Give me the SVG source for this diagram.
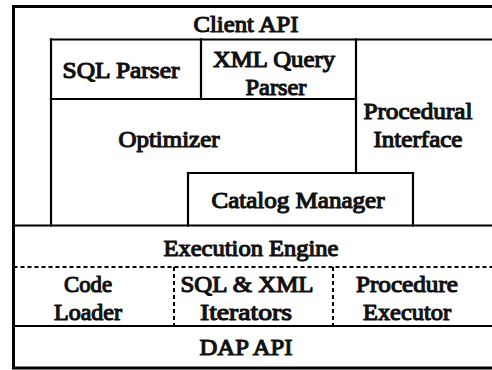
<svg xmlns="http://www.w3.org/2000/svg" width="492" height="370" viewBox="0 0 492 370">
  <style>
    .bg { fill: #ffffff; }
    .edge { fill: none; stroke: #000000; stroke-width: 2.2; stroke-linecap: square; }
    .outer { fill: none; stroke: #000000; stroke-width: 3; }
    .dash { fill: none; stroke: #000000; stroke-width: 2; stroke-dasharray: 4 3; }
    /* heavy serif label: regular face thickened with a stroke of the same colour */
    .label { font-family: "Liberation Serif", "DejaVu Serif", serif; font-weight: normal; font-size: 24px;
             fill: #111111; stroke: #111111; stroke-width: 1.2; stroke-linejoin: round; text-anchor: middle; }
  </style>

  <rect class="bg" x="0" y="0" width="492" height="370"/>

  <!-- partition lines of the layered architecture -->
  <g id="frame">
    <rect class="outer" x="13.5" y="6.5" width="490" height="361.5"/>
    <!-- client API band -->
    <path class="edge" d="M51 39.5 H495"/>
    <path class="edge" d="M51 39.5 V225.5"/>
    <!-- parsers row -->
    <path class="edge" d="M201 39.5 V99"/>
    <path class="edge" d="M51 99 H356"/>
    <path class="edge" d="M356 39.5 V173"/>
    <!-- catalog manager -->
    <path class="edge" d="M188 173 H413"/>
    <path class="edge" d="M188 173 V225.5"/>
    <path class="edge" d="M413 173 V225.5"/>
    <!-- execution engine -->
    <path class="edge" d="M13.5 225.5 H495"/>
    <path class="dash" d="M13.5 267 H495"/>
    <path class="dash" d="M174 267 V326"/>
    <path class="dash" d="M333 267 V326"/>
    <!-- DAP API -->
    <path class="edge" d="M13.5 326 H495"/>
  </g>

  <g id="client-api">
    <text class="label" x="246" y="32" textLength="105" lengthAdjust="spacingAndGlyphs">Client API</text>
  </g>
  <g id="sql-parser">
    <text class="label" x="121" y="78" textLength="117" lengthAdjust="spacingAndGlyphs">SQL Parser</text>
  </g>
  <g id="xml-query-parser">
    <text class="label" x="274" y="67" textLength="122" lengthAdjust="spacingAndGlyphs">XML Query</text>
    <text class="label" x="276" y="95" textLength="61" lengthAdjust="spacingAndGlyphs">Parser</text>
  </g>
  <g id="optimizer">
    <text class="label" x="169" y="147" textLength="101" lengthAdjust="spacingAndGlyphs">Optimizer</text>
  </g>
  <g id="procedural-interface">
    <text class="label" x="418" y="119" textLength="109" lengthAdjust="spacingAndGlyphs">Procedural</text>
    <text class="label" x="418" y="147" textLength="89" lengthAdjust="spacingAndGlyphs">Interface</text>
  </g>
  <g id="catalog-manager">
    <text class="label" x="298" y="208" textLength="173" lengthAdjust="spacingAndGlyphs">Catalog Manager</text>
  </g>
  <g id="execution-engine">
    <text class="label" x="251" y="256" textLength="175" lengthAdjust="spacingAndGlyphs">Execution Engine</text>
  </g>
  <g id="code-loader">
    <text class="label" x="88" y="292" textLength="48" lengthAdjust="spacingAndGlyphs">Code</text>
    <text class="label" x="88" y="320" textLength="68" lengthAdjust="spacingAndGlyphs">Loader</text>
  </g>
  <g id="sql-xml-iterators">
    <text class="label" x="247" y="292" textLength="133" lengthAdjust="spacingAndGlyphs">SQL &amp; XML</text>
    <text class="label" x="246" y="320" textLength="92" lengthAdjust="spacingAndGlyphs">Iterators</text>
  </g>
  <g id="procedure-executor">
    <text class="label" x="407" y="292" textLength="102" lengthAdjust="spacingAndGlyphs">Procedure</text>
    <text class="label" x="407" y="320" textLength="88" lengthAdjust="spacingAndGlyphs">Executor</text>
  </g>
  <g id="dap-api">
    <text class="label" x="246" y="355" textLength="93" lengthAdjust="spacingAndGlyphs">DAP API</text>
  </g>
</svg>
